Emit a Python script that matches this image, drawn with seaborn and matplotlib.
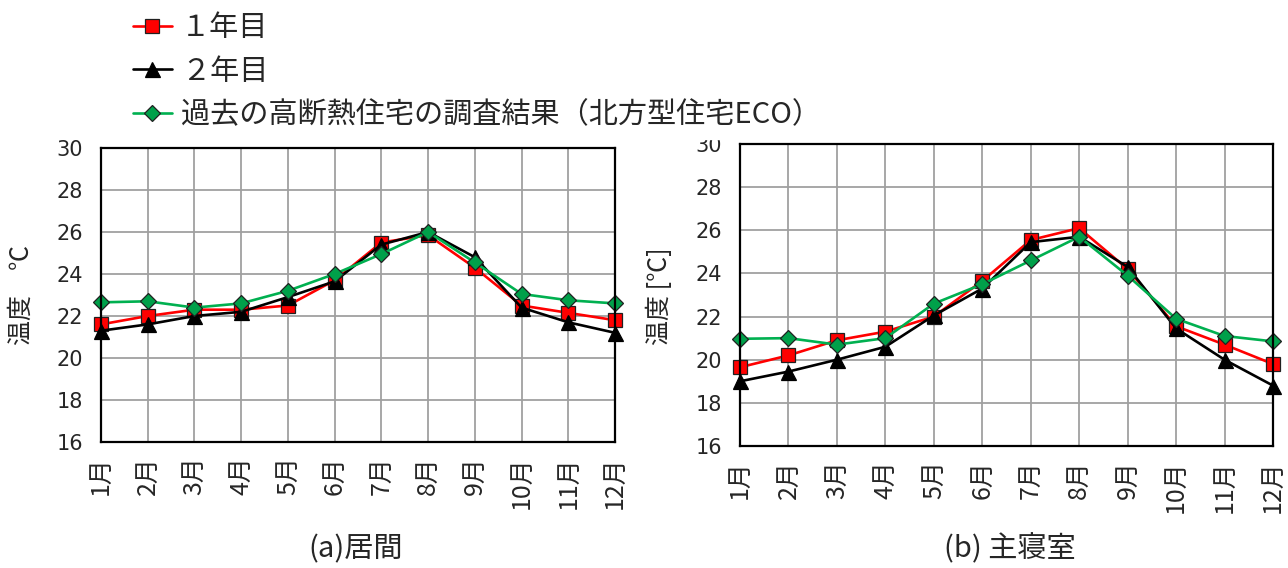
import numpy as np
import pandas as pd
import matplotlib
matplotlib.use("Agg")
import matplotlib.pyplot as plt
from matplotlib.patches import Rectangle
import seaborn as sns

# ---- data -------------------------------------------------------------
months = list(range(1, 13))
month_labels = [f"{m}月" for m in months]

series_names = ["１年目", "２年目", "過去の高断熱住宅の調査結果（北方型住宅ECO）"]

# (a) 居間
living_y1 = [21.6, 22.0, 22.3, 22.3, 22.5, 23.7, 25.5, 25.85, 24.3, 22.5, 22.15, 21.8]
living_y2 = [21.3, 21.6, 22.0, 22.2, 22.9, 23.65, 25.4, 26.0, 24.8, 22.4, 21.7, 21.2]
living_eco = [22.65, 22.7, 22.4, 22.6, 23.2, 24.0, 24.95, 26.0, 24.55, 23.05, 22.75, 22.6]

# (b) 主寝室
bedroom_y1 = [19.65, 20.2, 20.9, 21.3, 22.0, 23.65, 25.55, 26.1, 24.2, 21.55, 20.7, 19.8]
bedroom_y2 = [19.0, 19.45, 20.0, 20.6, 22.05, 23.3, 25.45, 25.7, 24.3, 21.45, 20.0, 18.8]
bedroom_eco = [20.97, 21.0, 20.7, 21.0, 22.6, 23.5, 24.6, 25.7, 23.9, 21.9, 21.1, 20.85]

y_ticks = [16, 18, 20, 22, 24, 26, 28, 30]

titles = ["(a)居間", "(b) 主寝室"]
ylabels = ["温度　℃", "温度 [℃]"]

# ---- style --------------------------------------------------------------
sns.set_theme(style="white")
plt.rcParams["font.family"] = ["DejaVu Sans", "Noto Sans CJK JP"]
CJK = ["Noto Sans CJK JP", "DejaVu Sans"]

styles = {
    series_names[0]: dict(color="#FF0000", marker="s", markersize=9.8,
                          markerfacecolor="#FF0000", markeredgecolor="#202020"),
    series_names[1]: dict(color="#000000", marker="^", markersize=10.8,
                          markerfacecolor="#000000", markeredgecolor="#000000"),
    series_names[2]: dict(color="#00B050", marker="D", markersize=8.2,
                          markerfacecolor="#00A04A", markeredgecolor="#202020"),
}


def long_frame(y1, y2, eco):
    return pd.DataFrame({
        "month": months * 3,
        "temp": y1 + y2 + eco,
        "series": [series_names[0]] * 12 + [series_names[1]] * 12 + [series_names[2]] * 12,
    })


frames = [long_frame(living_y1, living_y2, living_eco),
          long_frame(bedroom_y1, bedroom_y2, bedroom_eco)]

fig = plt.figure(figsize=(12.88, 5.68), dpi=100)
ax_left = fig.add_axes([101 / 1288, 1 - 442 / 568, 514 / 1288, 294 / 568])
ax_right = fig.add_axes([740 / 1288, 1 - 446 / 568, 533 / 1288, 302 / 568])
axes = [ax_left, ax_right]
label_x = [22 / 1288, 660 / 1288]
label_y = [1 - 295 / 568, 1 - 296 / 568]
title_x = [356 / 1288, 1010 / 1288]

for i, (ax, df) in enumerate(zip(axes, frames)):
    for name in series_names:
        st = styles[name]
        sns.lineplot(data=df[df["series"] == name], x="month", y="temp", ax=ax,
                     color=st["color"], marker=st["marker"], markersize=st["markersize"],
                     markerfacecolor=st["markerfacecolor"],
                     markeredgecolor=st["markeredgecolor"], markeredgewidth=0.9,
                     linewidth=1.9, label=name, legend=False, clip_on=False,
                     errorbar=None)
    ax.set_xlim(1, 12)
    ax.set_ylim(16, 30)
    ax.set_yticks(y_ticks)
    ax.set_yticklabels([str(v) for v in y_ticks], family="DejaVu Sans", fontsize=15)
    ax.set_xticks(months)
    ax.set_xticklabels(month_labels, rotation=90, family=CJK, fontsize=18)
    ax.tick_params(axis="y", direction="in", length=5, width=1.4,
                   color="black", pad=13)
    ax.tick_params(axis="x", direction="in", length=5, width=1.4,
                   color="black", pad=10)
    ax.grid(True, color="#A0A0A0", linewidth=1.3)
    ax.set_axisbelow(True)
    for sp in ax.spines.values():
        sp.set_visible(True)
        sp.set_color("black")
        sp.set_linewidth(1.6)
    ax.set_xlabel("")
    ax.set_ylabel("")
    fig.text(label_x[i], label_y[i], ylabels[i], rotation=90, ha="center",
             va="center", family=CJK, fontsize=18)
    fig.text(title_x[i], 1 - 549 / 568, titles[i], ha="center", va="center",
             family=CJK, fontsize=21)

handles = ax_left.get_lines()[:3]
leg = fig.legend(handles, series_names, loc="upper left",
                 bbox_to_anchor=(133 / 1288, 1 - 13 / 568), frameon=False,
                 prop={"family": CJK, "size": 21}, handlelength=1.32,
                 handletextpad=0.32, labelspacing=0.47, borderpad=0,
                 borderaxespad=0, numpoints=1)
leg.set_zorder(20)

# trim the top of the bedroom panel's upper tick label
fig.add_artist(Rectangle((680 / 1288, 1 - 139 / 568), 90 / 1288, 8 / 568,
                         transform=fig.transFigure, color="white", zorder=10))

fig.savefig("out.png", dpi=100)
